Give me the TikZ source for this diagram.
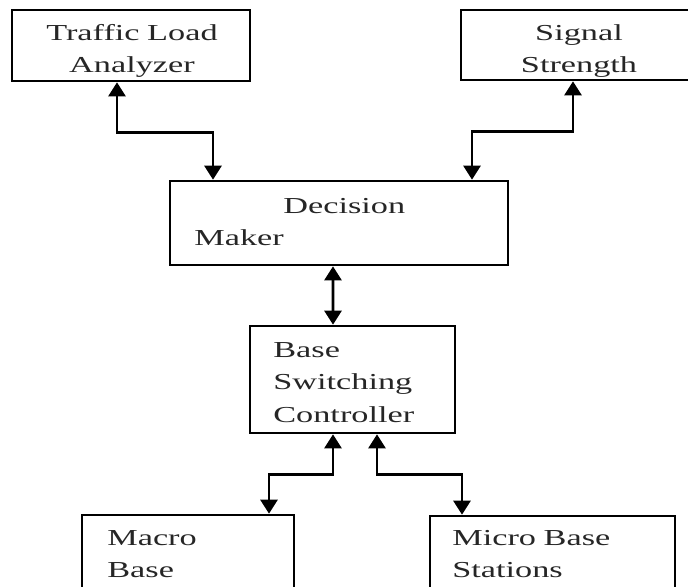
\documentclass[tikz,border=0pt]{standalone}
\usepackage{fontspec}
\setmainfont{Liberation Serif}[FakeStretch=1.5]
\usetikzlibrary{arrows.meta}

\begin{document}
\begin{tikzpicture}[x=0.2mm, y=-0.2mm,
        box/.style={draw, line width=1.5pt, inner sep=0pt},
        lbl/.style={inner sep=0pt, text width=#1, text=black!85, font=\fontsize{13pt}{18.5pt}\selectfont},
        link/.style={{Triangle[width=3.4mm,length=2.8mm]}-{Triangle[width=3.4mm,length=2.8mm]}, line width=1.5pt}]
        \useasboundingbox (0,0) rectangle (688,586);
        \clip (0,0) rectangle (688,586);

        \node[box, minimum width=47.6mm, minimum height=14.2mm] (traffic) at (131,45.5) {};
        \node[box, minimum width=47.2mm, minimum height=14mm] (signal) at (579,45) {};
        \node[box, minimum width=67.6mm, minimum height=16.8mm] (decision) at (339,223) {};
        \node[box, minimum width=41mm, minimum height=21.4mm] (switch) at (352.5,379.5) {};
        \node[box, minimum width=42.4mm, minimum height=21.4mm] (macro) at (188,568.5) {};
        \node[box, minimum width=49mm, minimum height=21.4mm] (micro) at (552.5,569.5) {};

        \node[lbl=45mm, align=center, anchor=base] (traffic-text) at (132,40) {Traffic Load\\Analyzer};
        \node[lbl=45mm, align=center, anchor=base] (signal-text) at (579,40) {Signal\\Strength};
        \node[lbl=60mm, align=left, anchor=base west] (decision-text) at (194,213) {\hspace*{17.8mm}Decision\\Maker};
        \node[lbl=36mm, align=left, anchor=base west] (switch-text) at (273,357) {Base\\Switching\\Controller};
        \node[lbl=36mm, align=left, anchor=base west] (macro-text) at (107,545) {Macro\\Base};
        \node[lbl=42mm, align=left, anchor=base west] (micro-text) at (452,545) {Micro Base\\Stations};

        \draw[link] ([xshift=-2.8mm]traffic.south) -- ++(0,50) -| ([xshift=-25.2mm]decision.north);
        \draw[link] ([xshift=-1.2mm]signal.south) -- ++(0,50) -| ([xshift=26.6mm]decision.north);
        \draw[link] ([xshift=-1.2mm]decision.south) -- ([xshift=-3.9mm]switch.north);
        \draw[link] ([xshift=-3.9mm]switch.south) -- ++(0,40) -| ([xshift=16.2mm]macro.north);
        \draw[link] ([xshift=4.9mm]switch.south) -- ++(0,40) -| ([xshift=-18.1mm]micro.north);
\end{tikzpicture}
\end{document}
